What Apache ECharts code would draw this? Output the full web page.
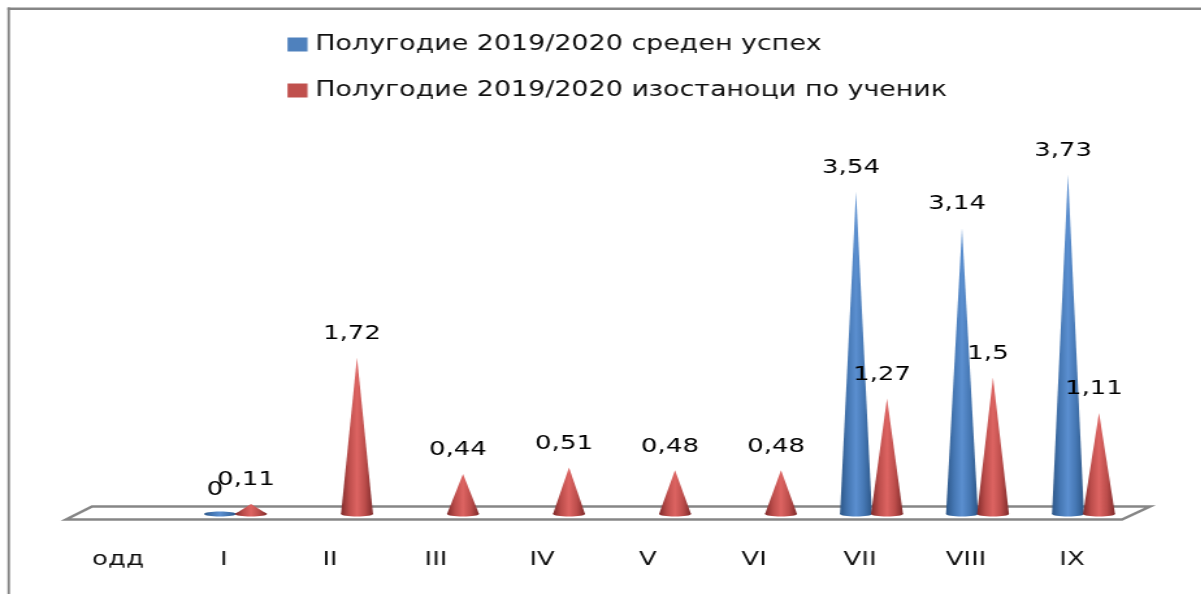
<!DOCTYPE html>
<html style="height: 100%">
<head>
	<meta charset="utf-8">
	<script src="https://cdn.jsdelivr.net/npm/echarts@6/dist/echarts.min.js"></script>
</head>
<body style="height: 100%; margin: 0; background-color: #fff; overflow: hidden;">
<!-- the original picture is stretched sideways, so the whole chart is stretched too -->
<div id="container" style="width: 924px; height: 594px; transform: scaleX(1.3); transform-origin: 0 0;"></div>
<script type="text/javascript">
	var categories = ['одд', 'I', 'II', 'III', 'IV', 'V', 'VI', 'VII', 'VIII', 'IX'];
	var avgName = 'Полугодие 2019/2020 среден успех';
	var absName = 'Полугодие 2019/2020 изостаноци по ученик';
	var avgValues = [null, 0, null, null, null, null, null, 3.54, 3.14, 3.73];
	var absValues = [null, 0.11, 1.72, 0.44, 0.51, 0.48, 0.48, 1.27, 1.5, 1.11];

	var STRETCH = 1.3;
	var FONT = '"DejaVu Sans"';

	function sx(px) {
		return px / STRETCH;
	}

	function toData(values) {
		var out = [];
		values.forEach(function(v, i) {
			if (v !== null) out.push([i, v]);
		});
		return out;
	}

	function coneGradient(dark, mid, light) {
		return new echarts.graphic.LinearGradient(0, 0, 1, 0, [
			{ offset: 0, color: dark },
			{ offset: 0.25, color: mid },
			{ offset: 0.5, color: light },
			{ offset: 0.75, color: mid },
			{ offset: 1, color: dark }
		]);
	}

	// cone standing on the floor, shifted from the category centre by offset
	function coneRenderer(offset, fill) {
		return function(params, api) {
			var val = api.value(1);
			var base = api.coord([api.value(0), 0]);
			var top = api.coord([api.value(0), val]);
			var cx = base[0] + sx(offset);
			var by = base[1] - 5.5;
			var ty = top[1] - 5.5;
			var r = sx(16);
			return {
				type: 'group',
				children: [{
					type: 'polygon',
					shape: { points: [[cx - r, by], [cx, ty], [cx + r, by]] },
					style: { fill: fill }
				}, {
					type: 'ellipse',
					shape: { cx: cx, cy: by, rx: r, ry: 2.5 },
					style: { fill: fill }
				}, {
					type: 'text',
					z2: 10,
					x: cx - sx(5),
					y: ty - 24,
					style: {
						text: String(val).replace('.', ','),
						font: '20px ' + FONT,
						fill: '#000',
						align: 'center',
						verticalAlign: 'middle'
					}
				}]
			};
		};
	}

	var dom = document.getElementById('container');
	var myChart = echarts.init(dom);

	var option = {
		animation: false,
		legend: {
			orient: 'vertical',
			left: sx(281),
			top: 29,
			itemWidth: sx(20),
			itemHeight: 14,
			itemGap: 25,
			icon: 'rect',
			textStyle: {
				fontFamily: FONT,
				fontSize: 20.7,
				color: '#111',
				padding: [0, 0, 0, 1]
			},
			data: [
				{ name: avgName, itemStyle: { color: '#4f81bd' } },
				{ name: absName, itemStyle: { color: '#c0504d' } }
			]
		},
		grid: {
			left: sx(65),
			width: sx(1060),
			top: 64.5,
			bottom: 74.5
		},
		xAxis: {
			type: 'category',
			data: categories,
			axisLine: { show: false },
			axisTick: { show: false },
			axisLabel: {
				margin: 30,
				interval: 0,
				fontFamily: FONT,
				fontSize: 20,
				color: '#111'
			}
		},
		yAxis: {
			type: 'value',
			min: 0,
			max: 5,
			show: false
		},
		graphic: [{
			// chart frame, only top and left show in the picture
			type: 'rect',
			silent: true,
			shape: { x: sx(7.5), y: 7.5, width: sx(1194), height: 2.5 },
			style: { fill: '#868686' }
		}, {
			type: 'rect',
			silent: true,
			shape: { x: sx(7.5), y: 7.5, width: sx(2.5), height: 587 },
			style: { fill: '#868686' }
		}, {
			// floor of the 3d box
			type: 'polygon',
			silent: true,
			shape: { points: [[sx(66), 519.5], [sx(92), 506.5], [sx(1150), 506.5], [sx(1122), 519.5]] },
			style: { fill: '#fff', stroke: '#868686', lineWidth: 2.5 }
		}],
		series: [{
			type: 'custom',
			name: avgName,
			clip: false,
			data: toData(avgValues),
			encode: { x: 0, y: 1 },
			itemStyle: { color: '#4f81bd' },
			renderItem: coneRenderer(-4, coneGradient('#2c5687', '#4577b3', '#5b8fd0'))
		}, {
			type: 'custom',
			name: absName,
			clip: false,
			data: toData(absValues),
			encode: { x: 0, y: 1 },
			itemStyle: { color: '#c0504d' },
			renderItem: coneRenderer(27, coneGradient('#7f2a2a', '#bc4d4b', '#dd6462'))
		}]
	};
	myChart.setOption(option);
</script>
</body>
</html>
